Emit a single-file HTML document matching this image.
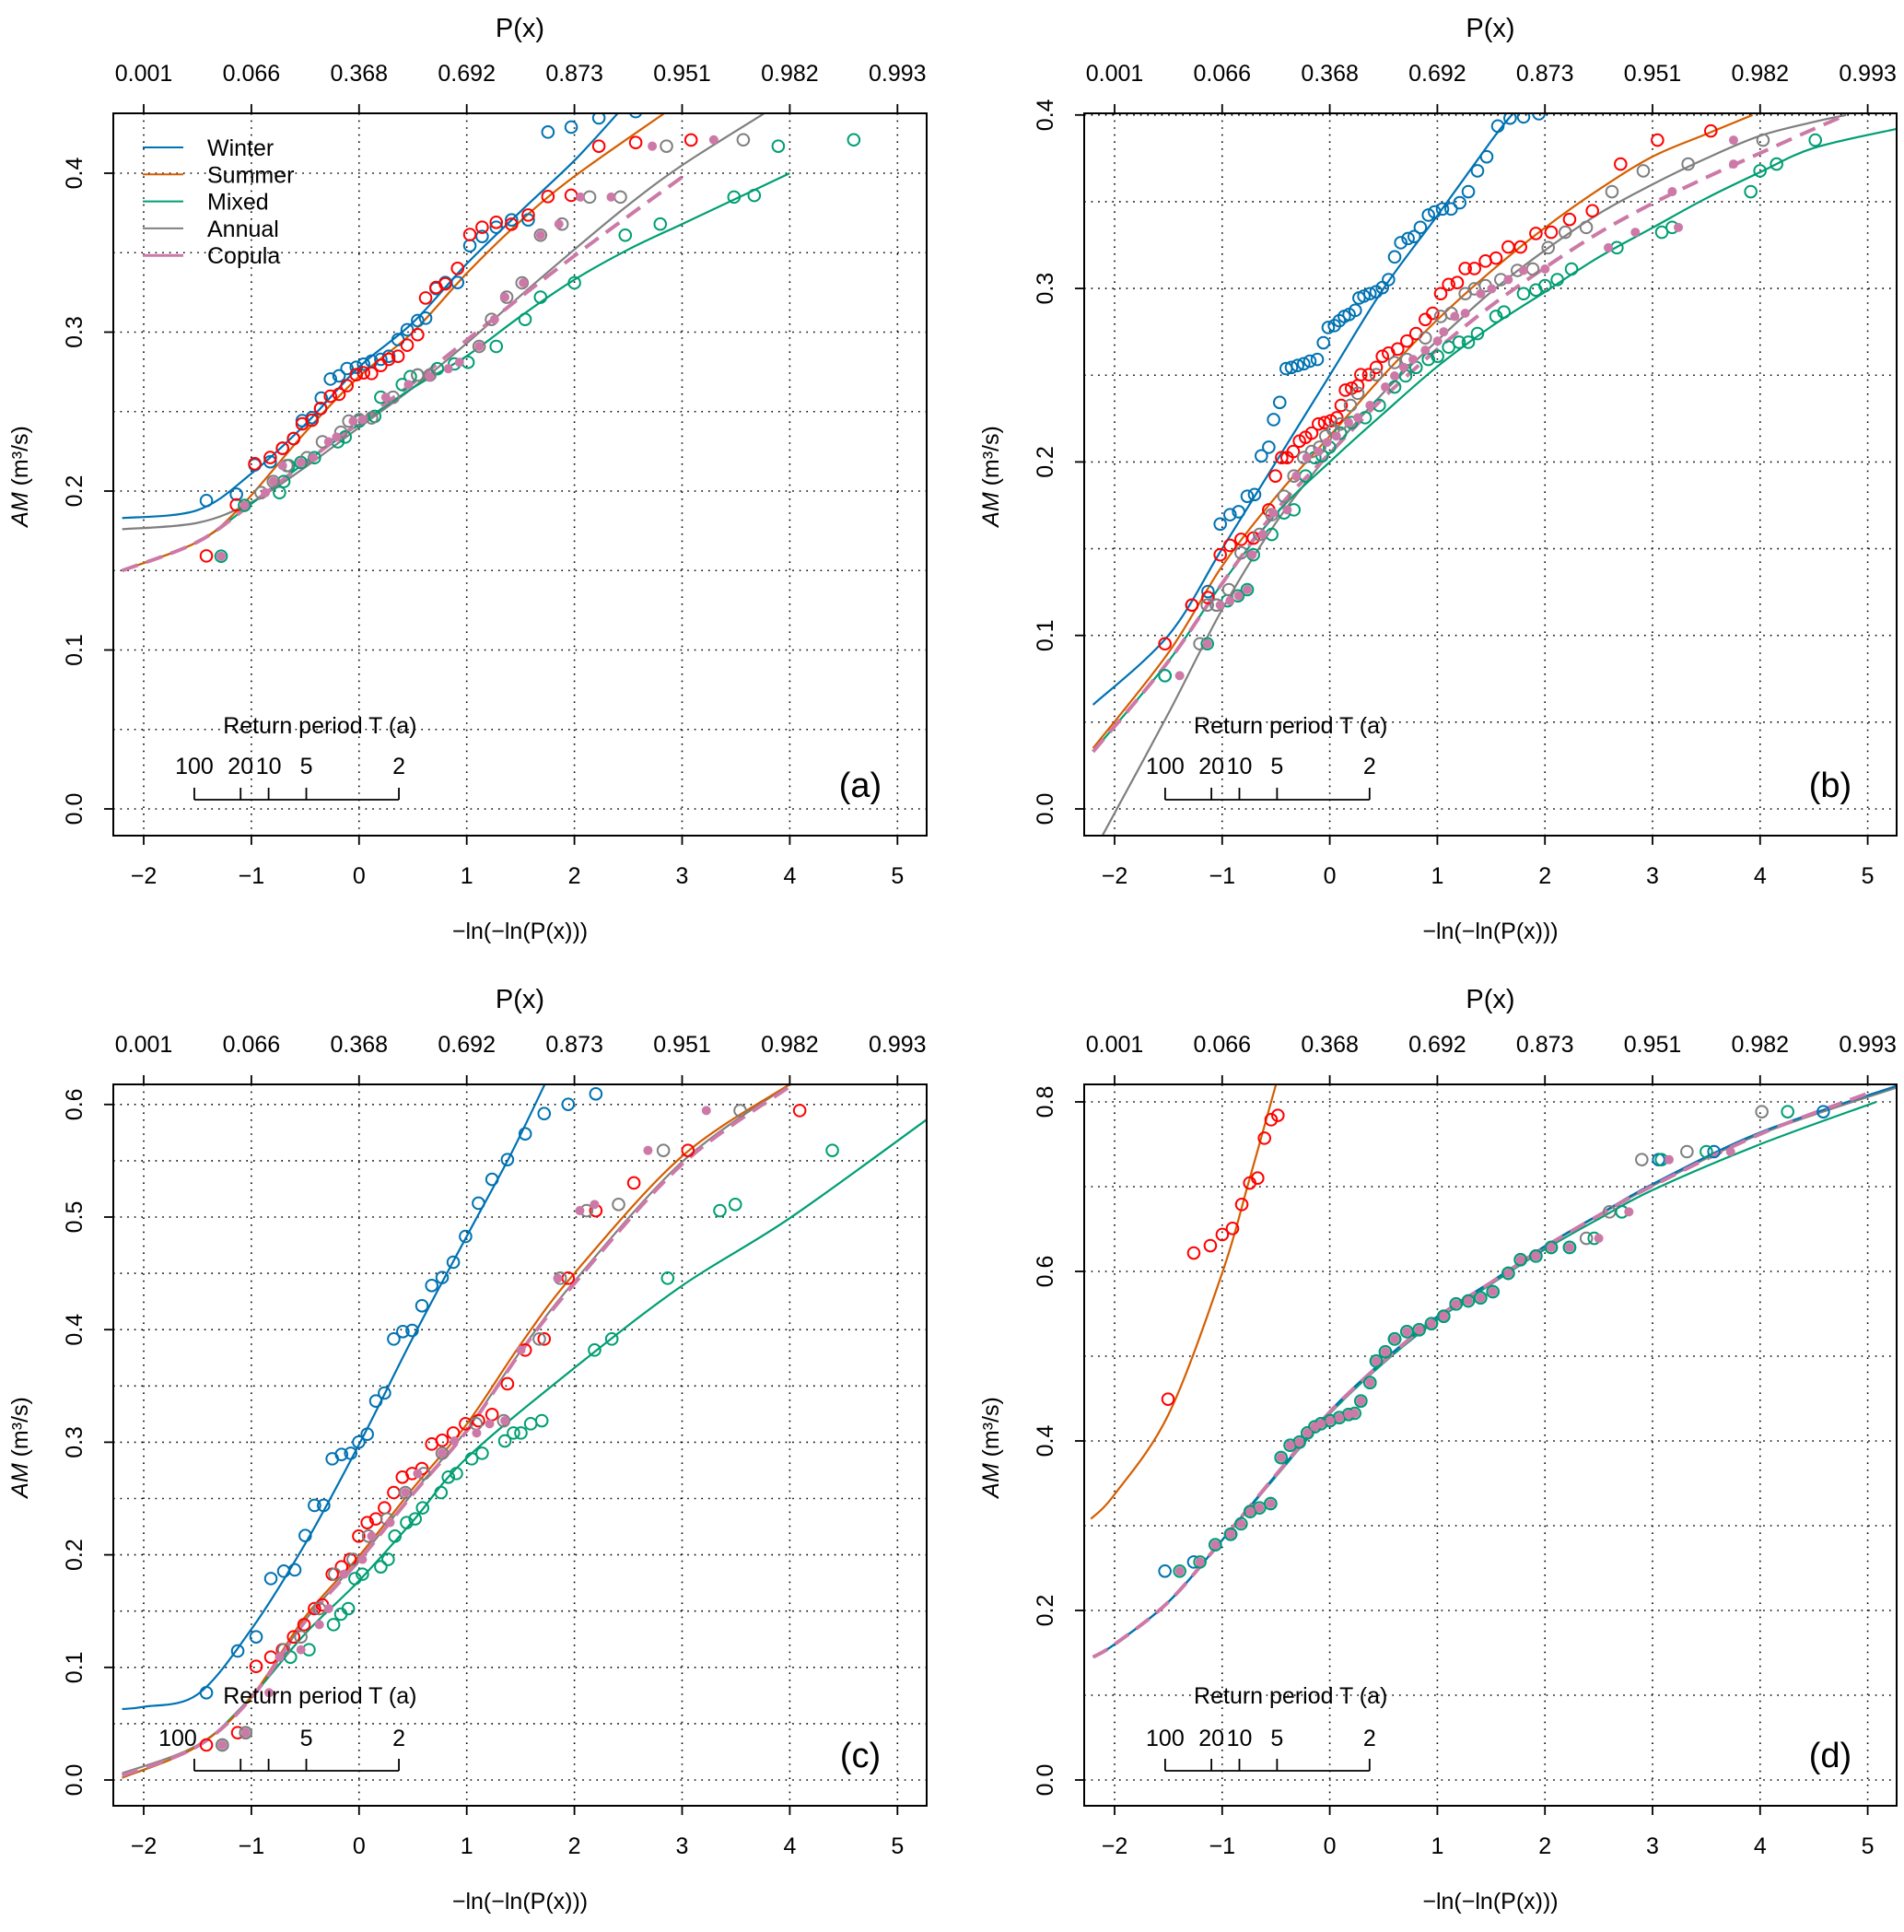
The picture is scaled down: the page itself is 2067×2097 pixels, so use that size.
<!DOCTYPE html>
<html><head><meta charset="utf-8"><style>
html,body{margin:0;padding:0;background:#fff}
svg{display:block;font-family:"Liberation Sans",Arial,sans-serif}
</style></head><body>
<svg id="chart" width="2067" height="2097" viewBox="0 0 2067 2097" xmlns="http://www.w3.org/2000/svg">
<rect x="0" y="0" width="2067" height="2097" fill="#fff"/>
</svg>
<script>
// ---------- shared labels ----------
const xTickVals=[-2,-1,0,1,2,3,4,5];
const pTickLabels=["0.001","0.066","0.368","0.692","0.873","0.951","0.982","0.993"];
const rpLabels=["100","20","10","5","2"];
const rpVals=[-1.53,-1.1,-0.84,-0.49,0.37];
const seriesNames=["Winter","Summer","Mixed","Annual","Copula"];

// ---------- panel (a) ----------
const aWinterCX=[-2.2,-1.5,-1,-0.5,0,0.5,1,1.5,2,2.4];
const aWinterCY=[0.183,0.188,0.211,0.242,0.278,0.306,0.343,0.376,0.408,0.4375];
const aSummerCX=[-2.2,-1.5,-1.1,-0.5,0,0.5,1,1.5,2,2.83];
const aSummerCY=[0.15,0.168,0.19,0.237,0.272,0.3,0.337,0.37,0.398,0.4375];
const aMixedCX=[-2.2,-1.5,-1,-0.5,0,0.5,1,1.5,2,2.5,3,3.5,4];
const aMixedCY=[0.15,0.168,0.192,0.218,0.242,0.265,0.285,0.31,0.333,0.352,0.368,0.384,0.4];
const aAnnualCX=[-2.2,-1.5,-1,-0.5,0,0.5,1,1.5,2,2.5,3,3.76];
const aAnnualCY=[0.176,0.18,0.193,0.215,0.24,0.265,0.293,0.323,0.352,0.38,0.405,0.4375];
const aCopulaCX=[-2.2,-1.5,-1,-0.5,0,0.5,1,1.5,2,2.5,3.05];
const aCopulaCY=[0.15,0.168,0.192,0.218,0.243,0.268,0.295,0.322,0.348,0.373,0.4];
const aWinterX=[-1.418,-1.139,-0.968,-0.825,-0.711,-0.608,-0.528,-0.437,-0.357,-0.351,-0.266,-0.186,-0.112,-0.026,0.042,0.116,0.202,0.276,0.362,0.447,0.544,0.618,0.715,0.801,0.915,1.029,1.143,1.274,1.416,1.571,1.754,1.970,2.227,2.569];
const aWinterY=[0.194,0.198,0.2165,0.2184,0.2269,0.2330,0.2443,0.2462,0.2519,0.2585,0.2705,0.2725,0.2771,0.2779,0.2798,0.2818,0.2829,0.2848,0.2953,0.3015,0.3073,0.3088,0.3274,0.3312,0.3312,0.3544,0.3602,0.3660,0.3706,0.3706,0.4259,0.4290,0.4348,0.4387];
const aSummerX=[-1.418,-1.139,-0.968,-0.825,-0.711,-0.608,-0.528,-0.437,-0.357,-0.266,-0.186,-0.112,-0.026,0.042,0.116,0.202,0.276,0.362,0.447,0.544,0.618,0.715,0.801,0.915,1.029,1.143,1.274,1.416,1.571,1.754,1.970,2.227,2.569,3.083];
const aSummerY=[0.1592,0.1913,0.2172,0.2211,0.2269,0.2330,0.2423,0.2446,0.2520,0.2597,0.2609,0.2663,0.2732,0.2744,0.2740,0.2790,0.2829,0.2848,0.2918,0.2984,0.3215,0.3281,0.3304,0.3401,0.3614,0.3660,0.3691,0.3679,0.3737,0.3853,0.3861,0.4170,0.4193,0.4209];
const aMixedX=[-1.281,-1.064,-0.739,-0.699,-0.654,-0.540,-0.414,-0.197,-0.129,0.002,0.145,0.202,0.402,0.476,0.544,0.727,0.886,1.012,1.274,1.542,1.685,2.000,2.472,2.797,3.482,3.670,3.893,4.594];
const aMixedY=[0.159,0.191,0.199,0.206,0.216,0.218,0.221,0.231,0.234,0.244,0.247,0.259,0.267,0.272,0.273,0.277,0.280,0.281,0.291,0.308,0.322,0.331,0.361,0.368,0.385,0.386,0.417,0.421];
const aAnnualX=[-0.910,-0.796,-0.671,-0.483,-0.340,-0.169,-0.095,0.002,0.116,0.316,0.544,0.658,1.115,1.230,1.371,1.514,1.685,1.885,2.141,2.427,2.855,3.568];
const aAnnualY=[0.199,0.206,0.216,0.221,0.231,0.237,0.244,0.245,0.246,0.259,0.273,0.273,0.291,0.308,0.322,0.331,0.361,0.368,0.385,0.385,0.417,0.421];
const aCopulaX=[-1.281,-1.064,-0.870,-0.796,-0.711,-0.540,-0.426,-0.283,-0.209,-0.055,0.031,0.248,0.459,0.658,0.829,0.932,1.115,1.258,1.354,1.525,1.685,1.856,2.056,2.341,2.723,3.294];
const aCopulaY=[0.159,0.191,0.199,0.206,0.216,0.218,0.221,0.231,0.234,0.244,0.245,0.259,0.267,0.272,0.277,0.281,0.291,0.308,0.322,0.331,0.361,0.368,0.385,0.385,0.417,0.421];

// ---------- panel (b) ----------
const bWinterCX=[-2.2,-1.5,-1,-0.5,0,0.5,1,1.5,1.69];
const bWinterCY=[0.06,0.1,0.15,0.2,0.25,0.3,0.342,0.385,0.4];
const bSummerCX=[-2.2,-1.5,-1,-0.5,0,0.5,1,1.5,2,2.5,3,3.5,3.93];
const bSummerCY=[0.035,0.09,0.14,0.18,0.215,0.25,0.282,0.31,0.335,0.357,0.376,0.389,0.4];
const bMixedCX=[-2.2,-1.5,-1,-0.5,0,0.5,1,1.5,2,2.5,3,3.5,4,4.5,5.27];
const bMixedCY=[0.033,0.085,0.13,0.17,0.2,0.228,0.255,0.278,0.298,0.318,0.335,0.352,0.367,0.381,0.392];
const bAnnualCX=[-2.11,-1.5,-1,-0.5,0,0.5,1,1.5,2,2.5,3,3.5,4,4.5,4.8];
const bAnnualCY=[-0.015,0.055,0.115,0.165,0.205,0.24,0.27,0.298,0.322,0.343,0.36,0.375,0.388,0.396,0.4];
const bCopulaCX=[-2.2,-1.5,-1,-0.5,0,0.5,1,1.5,2,2.5,3,3.5,4,4.5,4.8];
const bCopulaCY=[0.033,0.085,0.13,0.172,0.205,0.237,0.265,0.29,0.312,0.332,0.349,0.364,0.378,0.392,0.4];
const bWinterX=[-1.532,-1.281,-1.132,-1.018,-0.927,-0.847,-0.767,-0.699,-0.636,-0.567,-0.522,-0.465,-0.405,-0.356,-0.299,-0.242,-0.185,-0.116,-0.059,-0.014,0.043,0.089,0.135,0.180,0.237,0.272,0.317,0.374,0.431,0.489,0.546,0.603,0.660,0.728,0.785,0.842,0.917,0.974,1.048,1.128,1.208,1.288,1.373,1.459,1.562,1.676,1.801,1.944];
const bWinterY=[0.0768,0.1175,0.1253,0.1642,0.1696,0.1713,0.1802,0.1812,0.2035,0.2085,0.2244,0.2343,0.2538,0.2545,0.2556,0.2566,0.2581,0.2591,0.2687,0.2775,0.2786,0.2814,0.2839,0.2850,0.2874,0.2945,0.2956,0.2970,0.2981,0.3005,0.3051,0.3182,0.3264,0.3288,0.3299,0.3352,0.3423,0.3441,0.3458,0.3458,0.3494,0.3558,0.3678,0.3759,0.3936,0.3982,0.3989,0.4007];
const bSummerX=[-1.532,-1.281,-1.132,-1.018,-0.927,-0.824,-0.710,-0.567,-0.505,-0.447,-0.396,-0.339,-0.282,-0.225,-0.168,-0.105,-0.048,0.009,0.066,0.106,0.146,0.203,0.260,0.289,0.363,0.432,0.489,0.546,0.631,0.717,0.802,0.888,0.957,1.031,1.105,1.185,1.259,1.345,1.447,1.545,1.659,1.773,1.916,2.058,2.229,2.441,2.703,3.046,3.542];
const bSummerY=[0.0952,0.1175,0.1218,0.1465,0.1519,0.1554,0.1561,0.1724,0.1919,0.2025,0.2025,0.2060,0.2120,0.2142,0.2166,0.2219,0.2227,0.2237,0.2255,0.2326,0.2414,0.2425,0.2439,0.2503,0.2503,0.2545,0.2609,0.2627,0.2651,0.2697,0.2740,0.2821,0.2857,0.2970,0.3023,0.3034,0.3115,0.3115,0.3158,0.3175,0.3239,0.3239,0.3317,0.3324,0.3398,0.3448,0.3717,0.3855,0.3908];
const bMixedX=[-1.532,-1.138,-1.053,-0.950,-0.853,-0.767,-0.710,-0.539,-0.425,-0.333,-0.225,-0.139,-0.071,-0.002,0.100,0.203,0.329,0.460,0.603,0.705,0.802,0.917,1.002,1.105,1.202,1.288,1.373,1.545,1.619,1.801,1.916,2.001,2.115,2.247,2.669,3.086,3.183,3.913,3.999,4.153,4.513];
const bMixedY=[0.0768,0.0952,0.1175,0.1200,0.1228,0.1264,0.1465,0.1582,0.1706,0.1724,0.1919,0.2025,0.2035,0.2085,0.2166,0.2227,0.2255,0.2326,0.2432,0.2496,0.2545,0.2591,0.2609,0.2662,0.2690,0.2690,0.2740,0.2839,0.2864,0.2970,0.2991,0.3016,0.3051,0.3112,0.3235,0.3324,0.3352,0.3558,0.3678,0.3717,0.3855];
const bAnnualX=[-1.207,-1.138,-1.053,-0.938,-0.824,-0.653,-0.539,-0.425,-0.333,-0.242,-0.168,-0.094,-0.037,0.032,0.100,0.192,0.260,0.432,0.603,0.717,0.888,1.031,1.128,1.259,1.345,1.447,1.590,1.744,1.887,2.030,2.189,2.384,2.623,2.914,3.331,4.027];
const bAnnualY=[0.0952,0.1175,0.1175,0.1264,0.1476,0.1582,0.1696,0.1802,0.1919,0.2025,0.2060,0.2085,0.2149,0.2184,0.2219,0.2326,0.2396,0.2503,0.2573,0.2591,0.2715,0.2839,0.2857,0.2970,0.2998,0.3016,0.3051,0.3104,0.3112,0.3235,0.3324,0.3352,0.3558,0.3678,0.3717,0.3855];
const bCopulaX=[-1.395,-1.138,-1.018,-0.927,-0.847,-0.767,-0.721,-0.624,-0.527,-0.396,-0.311,-0.213,-0.105,-0.025,0.061,0.175,0.260,0.374,0.517,0.603,0.688,0.774,0.888,1.002,1.059,1.162,1.259,1.402,1.505,1.659,1.801,2.001,2.589,2.840,3.183,3.240,3.753,3.753];
const bCopulaY=[0.0768,0.0952,0.1175,0.1200,0.1228,0.1264,0.1465,0.1582,0.1706,0.1724,0.1919,0.2025,0.2060,0.2113,0.2149,0.2227,0.2255,0.2326,0.2432,0.2496,0.2545,0.2591,0.2644,0.2697,0.2750,0.2839,0.2857,0.2970,0.2998,0.3051,0.3104,0.3112,0.3235,0.3324,0.3558,0.3352,0.3717,0.3855];

// ---------- panel (c) ----------
const cWinterCX=[-2.2,-2,-1.5,-1,-0.5,0,0.5,1,1.4,1.725];
const cWinterCY=[0.063,0.065,0.076,0.134,0.21,0.298,0.393,0.483,0.554,0.618];
const cSummerCX=[-2.2,-1.5,-1,-0.5,0,0.5,1,1.5,2,3,4];
const cSummerCY=[0.002,0.03,0.074,0.145,0.199,0.259,0.316,0.387,0.45,0.554,0.618];
const cMixedCX=[-2.2,-1.5,-1,-0.5,0,0.5,1,2,3,4,5.27];
const cMixedCY=[0.002,0.03,0.074,0.13,0.177,0.23,0.286,0.366,0.439,0.499,0.5865];
const cAnnualCX=[-2.2,-1.5,-1,-0.5,0,0.5,1,1.5,2,3,4];
const cAnnualCY=[0.006,0.031,0.073,0.142,0.196,0.255,0.311,0.381,0.443,0.549,0.618];
const cCopulaCX=[-2.2,-1.5,-1,-0.5,0,0.5,1,1.5,2,3,4];
const cCopulaCY=[0.004,0.03,0.073,0.141,0.195,0.254,0.31,0.38,0.441,0.547,0.616];
const cWinterX=[-1.418,-1.127,-0.956,-0.819,-0.699,-0.597,-0.500,-0.414,-0.329,-0.249,-0.163,-0.078,-0.003,0.076,0.156,0.236,0.322,0.407,0.493,0.584,0.675,0.772,0.875,0.989,1.109,1.235,1.378,1.543,1.719,1.942,2.199];
const cWinterY=[0.0775,0.1146,0.1271,0.1789,0.1855,0.1866,0.2171,0.2439,0.2439,0.2853,0.2891,0.2902,0.3001,0.3071,0.3366,0.3437,0.3917,0.3983,0.3993,0.4212,0.4392,0.4463,0.4599,0.4828,0.5123,0.5335,0.5510,0.5739,0.5919,0.6001,0.6094];
const cSummerX=[-1.418,-1.127,-0.956,-0.819,-0.711,-0.608,-0.511,-0.414,-0.340,-0.249,-0.163,-0.083,-0.003,0.076,0.156,0.236,0.322,0.402,0.493,0.584,0.675,0.772,0.875,0.989,1.109,1.235,1.378,1.543,1.719,1.942,2.199,2.552,3.054,4.092];
const cSummerY=[0.0311,0.0420,0.1009,0.1091,0.1157,0.1271,0.1380,0.1522,0.1555,0.1828,0.1893,0.1959,0.2166,0.2286,0.2319,0.2417,0.2553,0.2690,0.2722,0.2766,0.2984,0.3017,0.3082,0.3164,0.3191,0.3246,0.3519,0.3819,0.3917,0.4457,0.5057,0.5303,0.5592,0.5946];
const cMixedX=[-1.270,-1.053,-0.637,-0.465,-0.237,-0.169,-0.100,-0.038,0.031,0.202,0.270,0.333,0.442,0.521,0.590,0.761,0.829,0.904,1.046,1.143,1.354,1.434,1.503,1.594,1.697,2.187,2.347,2.866,3.351,3.494,4.395];
const cMixedY=[0.0311,0.0420,0.1091,0.1157,0.1380,0.1473,0.1522,0.1789,0.1828,0.1893,0.1959,0.2166,0.2286,0.2319,0.2417,0.2553,0.2690,0.2722,0.2853,0.2902,0.3011,0.3082,0.3082,0.3164,0.3191,0.3819,0.3917,0.4457,0.5057,0.5112,0.5592];
const cAnnualX=[-1.270,-1.053,-0.699,-0.540,-0.369,-0.226,-0.055,0.088,0.259,0.430,0.601,0.772,1.086,1.343,1.674,1.868,2.113,2.410,2.826,3.539];
const cAnnualY=[0.0311,0.0420,0.1157,0.1271,0.1522,0.1828,0.1959,0.2166,0.2319,0.2553,0.2722,0.2902,0.3164,0.3191,0.3917,0.4457,0.5057,0.5112,0.5592,0.5946];
const cCopulaX=[-1.270,-1.053,-0.836,-0.739,-0.540,-0.369,-0.283,-0.140,0.031,0.117,0.288,0.430,0.544,0.772,0.886,1.092,1.212,1.354,1.503,1.845,2.050,2.187,2.683,3.225];
const cCopulaY=[0.0311,0.0420,0.0775,0.1091,0.1157,0.1380,0.1522,0.1828,0.1959,0.2166,0.2286,0.2553,0.2722,0.2902,0.3011,0.3082,0.3164,0.3191,0.3819,0.4457,0.5057,0.5112,0.5592,0.5946];

// ---------- panel (d) ----------
const dSummerCX=[-2.22,-2,-1.5,-1,-0.75,-0.499];
const dSummerCY=[0.308,0.337,0.431,0.598,0.707,0.821];
const dWinterCX=[-2.2,-2,-1.5,-1,-0.5,0,0.5,1,1.5,2,2.5,3,4,5.27];
const dWinterCY=[0.145,0.16,0.21,0.283,0.36,0.435,0.495,0.547,0.588,0.63,0.667,0.703,0.764,0.819];
const dMixedCX=[-2.2,-2,-1.5,-1,-0.5,0,0.5,1,1.5,2,2.5,3,4,5.08];
const dMixedCY=[0.145,0.16,0.21,0.283,0.358,0.432,0.492,0.543,0.585,0.626,0.662,0.696,0.75,0.8];
const dAnnualCX=[-2.2,-2,-1.5,-1,-0.5,0,0.5,1,1.5,2,2.5,3,4,5.27];
const dAnnualCY=[0.145,0.16,0.21,0.283,0.36,0.434,0.494,0.546,0.587,0.629,0.666,0.701,0.762,0.817];
const dCopulaCX=[-2.2,-2,-1.5,-1,-0.5,0,0.5,1,1.5,2,2.5,3,4,5.0];
const dCopulaCY=[0.145,0.16,0.21,0.283,0.36,0.434,0.494,0.546,0.587,0.629,0.666,0.701,0.762,0.81];
const dSummerX=[-1.503,-1.264,-1.110,-0.999,-0.904,-0.818,-0.744,-0.670,-0.607,-0.545,-0.482];
const dSummerY=[0.4493,0.6217,0.6304,0.6435,0.6507,0.6790,0.7043,0.7101,0.7572,0.7790,0.7841];
const dWinterX=[-1.532,-1.264,-1.064,-0.921,-0.739,-0.550,-0.453,-0.368,-0.282,-0.208,-0.139,-0.082,0.003,0.089,0.175,0.289,0.374,0.432,0.517,0.603,0.717,0.831,0.945,1.059,1.174,1.288,1.402,1.516,1.659,1.773,1.916,2.058,2.229,2.715,3.057,3.571,4.587];
const dWinterY=[0.2464,0.2572,0.2775,0.2899,0.3167,0.3261,0.3804,0.3949,0.3986,0.4094,0.4167,0.4203,0.4239,0.4275,0.4312,0.4471,0.4688,0.4942,0.5051,0.5203,0.5290,0.5312,0.5384,0.5471,0.5616,0.5652,0.5688,0.5761,0.5978,0.6138,0.6181,0.6283,0.6283,0.6703,0.7319,0.7413,0.7884];
const dMixedX=[-1.395,-1.207,-1.064,-0.921,-0.824,-0.739,-0.653,-0.550,-0.453,-0.368,-0.282,-0.208,-0.139,-0.082,0.003,0.089,0.175,0.232,0.289,0.374,0.432,0.517,0.603,0.717,0.831,0.945,1.059,1.174,1.288,1.402,1.516,1.659,1.773,1.916,2.058,2.229,2.458,2.715,3.083,3.500,4.256];
const dMixedY=[0.2464,0.2572,0.2775,0.2899,0.3022,0.3167,0.3210,0.3261,0.3804,0.3949,0.3986,0.4094,0.4167,0.4203,0.4239,0.4275,0.4312,0.4326,0.4471,0.4688,0.4942,0.5051,0.5203,0.5290,0.5312,0.5384,0.5471,0.5616,0.5652,0.5688,0.5761,0.5978,0.6138,0.6181,0.6283,0.6283,0.6391,0.6703,0.7319,0.7413,0.7884];
const dAnnualX=[-0.921,-0.739,0.003,0.603,1.059,1.659,1.773,2.058,2.385,2.600,2.900,3.320,4.016];
const dAnnualY=[0.2899,0.3167,0.4239,0.5203,0.5471,0.5978,0.6138,0.6283,0.6391,0.6703,0.7319,0.7413,0.7884];
const dCopulaX=[-1.395,-1.207,-1.064,-0.921,-0.824,-0.739,-0.653,-0.550,-0.453,-0.368,-0.282,-0.208,-0.139,-0.082,0.003,0.089,0.175,0.232,0.289,0.374,0.432,0.517,0.603,0.717,0.831,0.945,1.059,1.174,1.288,1.402,1.516,1.659,1.773,1.916,2.058,2.229,2.500,2.780,3.154,3.725];
const dCopulaY=[0.2464,0.2572,0.2775,0.2899,0.3022,0.3167,0.3210,0.3261,0.3804,0.3949,0.3986,0.4094,0.4167,0.4203,0.4239,0.4275,0.4312,0.4326,0.4471,0.4688,0.4942,0.5051,0.5203,0.5290,0.5312,0.5384,0.5471,0.5616,0.5652,0.5688,0.5761,0.5978,0.6138,0.6181,0.6283,0.6283,0.6391,0.6703,0.7319,0.7413];

const NS="http://www.w3.org/2000/svg";
const svg=document.getElementById('chart');
const COL={Winter:"#0072B2",Summer:"#D55E00",Mixed:"#009E73",Annual:"#7F7F7F",Copula:"#CC79A7"};
const PTC={Winter:"#0072B2",Summer:"#FF0000",Mixed:"#009E73",Annual:"#7F7F7F",Copula:"#CC79A7"};
function el(tag,attrs,parent){const e=document.createElementNS(NS,tag);for(const k in attrs)e.setAttribute(k,attrs[k]);(parent||svg).appendChild(e);return e;}
function txt(s,attrs,parent){const e=el('text',attrs,parent);e.textContent=s;return e;}
function smooth(P){
  if(P.length<3) return 'M'+P.map(p=>p.join(',')).join(' L');
  let d='M'+P[0][0].toFixed(1)+','+P[0][1].toFixed(1);
  for(let i=0;i<P.length-1;i++){
    const p0=P[Math.max(0,i-1)],p1=P[i],p2=P[i+1],p3=P[Math.min(P.length-1,i+2)];
    const c1=[p1[0]+(p2[0]-p0[0])/6,p1[1]+(p2[1]-p0[1])/6];
    const c2=[p2[0]-(p3[0]-p1[0])/6,p2[1]-(p3[1]-p1[1])/6];
    d+=' C'+c1[0].toFixed(1)+','+c1[1].toFixed(1)+' '+c2[0].toFixed(1)+','+c2[1].toFixed(1)+' '+p2[0].toFixed(1)+','+p2[1].toFixed(1);
  }
  return d;
}

const panels=[
 {id:'a',L:123,R:1006,T:123,B:907,x0:156,xs:116.9,y0:878,ys:1725,yMax:0.4375,yLab:[0,0.1,0.2,0.3,0.4],gStep:0.05,dy:0,lx:0,rpTextY:787,rpLabY:831,rpLineY:868,rpShow:[1,1,1,1,1],rpOff:[0,0,0,0,0],
  curves:{Winter:[aWinterCX,aWinterCY],Summer:[aSummerCX,aSummerCY],Mixed:[aMixedCX,aMixedCY],Annual:[aAnnualCX,aAnnualCY],Copula:[aCopulaCX,aCopulaCY]},
  pts:{Winter:[aWinterX,aWinterY],Summer:[aSummerX,aSummerY],Mixed:[aMixedX,aMixedY],Annual:[aAnnualX,aAnnualY],Copula:[aCopulaX,aCopulaY]},legend:true},
 {id:'b',L:1177,R:2059,T:123,B:907,x0:1210,xs:116.8,y0:878,ys:1883,yMax:0.4,yLab:[0,0.1,0.2,0.3,0.4],gStep:0.05,dy:0,lx:1054,rpTextY:787,rpLabY:831,rpLineY:868,rpShow:[1,1,1,1,1],rpOff:[0,0,0,0,0],
  curves:{Winter:[bWinterCX,bWinterCY],Summer:[bSummerCX,bSummerCY],Mixed:[bMixedCX,bMixedCY],Annual:[bAnnualCX,bAnnualCY],Copula:[bCopulaCX,bCopulaCY]},
  pts:{Winter:[bWinterX,bWinterY],Summer:[bSummerX,bSummerY],Mixed:[bMixedX,bMixedY],Annual:[bAnnualX,bAnnualY],Copula:[bCopulaX,bCopulaY]}},
 {id:'c',L:123,R:1006,T:1177,B:1960,x0:156,xs:116.9,y0:1932,ys:1222,yMax:0.618,yLab:[0,0.1,0.2,0.3,0.4,0.5,0.6],gStep:0.05,dy:1054,lx:0,rpTextY:1840,rpLabY:1886,rpLineY:1922,rpShow:[1,0,0,1,1],rpOff:[-18,0,0,0,0],
  curves:{Winter:[cWinterCX,cWinterCY],Summer:[cSummerCX,cSummerCY],Mixed:[cMixedCX,cMixedCY],Annual:[cAnnualCX,cAnnualCY],Copula:[cCopulaCX,cCopulaCY]},
  pts:{Winter:[cWinterX,cWinterY],Summer:[cSummerX,cSummerY],Mixed:[cMixedX,cMixedY],Annual:[cAnnualX,cAnnualY],Copula:[cCopulaX,cCopulaY]}},
 {id:'d',L:1177,R:2059,T:1177,B:1960,x0:1210,xs:116.8,y0:1932,ys:920,yMax:0.821,yLab:[0,0.2,0.4,0.6,0.8],gStep:0.1,dy:1054,lx:1054,rpTextY:1840,rpLabY:1886,rpLineY:1922,rpShow:[1,1,1,1,1],rpOff:[0,0,0,0,0],
  curves:{Winter:[dWinterCX,dWinterCY],Summer:[dSummerCX,dSummerCY],Mixed:[dMixedCX,dMixedCY],Annual:[dAnnualCX,dAnnualCY],Copula:[dCopulaCX,dCopulaCY]},
  pts:{Annual:[dAnnualX,dAnnualY],Winter:[dWinterX,dWinterY],Mixed:[dMixedX,dMixedY],Summer:[dSummerX,dSummerY],Copula:[dCopulaX,dCopulaY]}}
];

panels.forEach(p=>{
  const X=v=>p.x0+(v+2)*p.xs, Y=v=>p.y0-v*p.ys;
  const g=el('g',{});
  
  
  const cp=el('clipPath',{id:'clip-'+p.id},g);
  el('rect',{x:p.L,y:p.T,width:p.R-p.L,height:p.B-p.T},cp);
  const grid=el('g',{stroke:"#000","stroke-width":1.6,"stroke-dasharray":"1.6,6"},g);
  
  
  xTickVals.forEach(v=>el('line',{x1:X(v),x2:X(v),y1:p.T,y2:p.B},grid));
  for(let v=0;v<=p.yMax+1e-9;v+=p.gStep){el('line',{x1:p.L,x2:p.R,y1:Y(v),y2:Y(v)},grid);}
  const cg=el('g',{'clip-path':'url(#clip-'+p.id+')',fill:'none'},g);
  ["Annual","Mixed","Summer","Winter","Copula"].forEach(s=>{
    const [cx,cy]=p.curves[s];
    const pl=el('path',{d:smooth(cx.map((v,i)=>[X(v),Y(cy[i])])),stroke:COL[s],'stroke-width':s==="Copula"?4:2.2,'stroke-dasharray':s==="Copula"?"18,10":"none",'stroke-linejoin':'round'},cg);
    
    
  });
  const pg=el('g',{'clip-path':'url(#clip-'+p.id+')'},g);
  Object.keys(p.pts).forEach(s=>{
    const [px,py]=p.pts[s];
    const sg=el('g',{},pg);
    
    
    px.forEach((v,i)=>{
      if(s==="Copula") el('circle',{cx:X(v),cy:Y(py[i]),r:5,fill:PTC[s]},sg);
      else el('circle',{cx:X(v),cy:Y(py[i]),r:6.3,fill:'none',stroke:PTC[s],'stroke-width':2},sg);
    });
  });
  const box=el('rect',{x:p.L,y:p.T,width:p.R-p.L,height:p.B-p.T,fill:'none',stroke:'#000','stroke-width':2},g);
  
  
  const ax=el('g',{stroke:'#000','stroke-width':1.8},g);
  xTickVals.forEach(v=>{el('line',{x1:X(v),x2:X(v),y1:p.B,y2:p.B+10},ax);el('line',{x1:X(v),x2:X(v),y1:p.T,y2:p.T-10},ax);});
  p.yLab.forEach(v=>el('line',{x1:p.L,x2:p.L-10,y1:Y(v),y2:Y(v)},ax));
  const fs=25;
  xTickVals.forEach((v,i)=>{
    const t=txt(v<0?"\u2212"+(-v):String(v),{x:X(v),y:p.B+52,'font-size':fs,'text-anchor':'middle'},g);
    
    
    const t2=txt(pTickLabels[i],{x:X(v),y:p.T-35,'font-size':fs,'text-anchor':'middle'},g);
    
    
  });
  p.yLab.forEach(v=>{
    const yy=Y(v), xx=p.L-34;
    const t=txt(v.toFixed(1),{x:xx,y:yy,'font-size':fs,'text-anchor':'middle',transform:`rotate(-90 ${xx} ${yy})`},g);
    
    
  });
  const cxm=(p.L+p.R)/2;
  const pt=txt("P(x)",{x:cxm,y:p.T-83,'font-size':29,'text-anchor':'middle'},g);
  
  
  const xt=txt("\u2212ln(\u2212ln(P(x)))",{x:cxm,y:p.B+112,'font-size':25,'text-anchor':'middle'},g);
  
  
  const yx=30+p.lx, yy=517+p.dy;
  const yt=el('text',{x:yx,y:yy,'font-size':25,'text-anchor':'middle',transform:`rotate(-90 ${yx} ${yy})`},g);
  
  
  const ts1=el('tspan',{'font-style':'italic'},yt); ts1.textContent="AM";
  const ts2=el('tspan',{},yt); ts2.textContent=" (m\u00b3/s)";
  const rp=el('g',{},g);
  
  
  txt("Return period T (a)",{x:X(-0.5)+16,y:p.rpTextY+9,'font-size':25,'text-anchor':'middle'},rp);
  el('line',{x1:X(rpVals[0]),x2:X(rpVals[4]),y1:p.rpLineY,y2:p.rpLineY,stroke:'#000','stroke-width':1.8},rp);
  rpVals.forEach((v,i)=>{
    el('line',{x1:X(v),x2:X(v),y1:p.rpLineY,y2:p.rpLineY-13,stroke:'#000','stroke-width':1.8},rp);
    if(p.rpShow[i]) txt(rpLabels[i],{x:X(v)+p.rpOff[i],y:p.rpLabY+9,'font-size':25,'text-anchor':'middle'},rp);
  });
  const lt=txt("("+p.id+")",{x:p.R-72,y:p.B-42,'font-size':38,'text-anchor':'middle'},g);
  
  
  if(p.legend){
    const lg=el('g',{},g);
    
    
    seriesNames.forEach((s,i)=>{
      const ly=160+i*29.3;
      const e=el('g',{},lg);
      
      
      el('line',{x1:155,x2:199,y1:ly,y2:ly,stroke:COL[s],'stroke-width':s==="Copula"?3:2},e);
      txt(s,{x:225,y:ly+9,'font-size':25},e);
    });
  }
});
</script>
</body></html>
